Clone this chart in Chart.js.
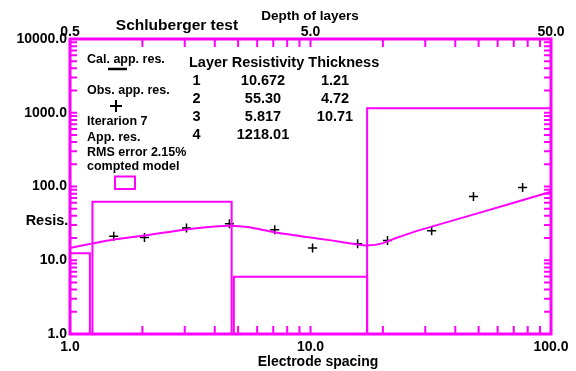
<!DOCTYPE html>
<html>
<head>
<meta charset="utf-8">
<script src="https://cdn.jsdelivr.net/npm/chart.js@4.4.1/dist/chart.umd.min.js"></script>
<style>
  body { margin: 0; background: #fff; }
</style>
</head>
<body>
<canvas id="ChartSounding" width="576" height="371"></canvas>
<script>
// observed apparent resistivity (crosses)
const spacing  = [1.52, 2.04, 3.05, 4.6, 7.1, 10.2, 15.7, 20.9, 31.9, 47.6, 76.2];
const observed = [21.1, 20.3, 27.3, 31.3, 26.0, 14.7, 16.8, 18.5, 25.2, 73.3, 96.9];

// calculated apparent resistivity (curve)
const calcX = [1, 1.23, 1.5, 2.04, 3.05, 4.0, 4.65, 5.47, 7.1, 10, 12.2, 15.7, 17.1, 19.7, 22.4, 28.9, 51.5, 100];
const calcY = [14.7, 16.8, 19.0, 21.7, 26.2, 28.6, 29.4, 28.2, 24.0, 20.3, 18.6, 16.4, 15.9, 16.8, 19.7, 26.0, 44.9, 85];

// computed model, as drawn
const layerLeft  = [1, 1.24, 4.8, 17.2];
const layerRight = [1.21, 4.70, 17.2, 100];
const layerRes   = [12.4, 62, 5.98, 1150];

// table
const layers      = ['1', '2', '3', '4'];
const resistivity = ['10.672', '55.30', '5.817', '1218.01'];
const thickness   = ['1.21', '4.72', '10.71', ''];

// ticks
const xTicks   = [1, 10, 100];
const topTicks = [0.5, 5, 50];
const yTicks   = [1, 10, 100, 1000, 10000];
const minorSteps = [2, 3, 4, 5, 6, 7, 8, 9];

const magenta = '#ff00ff';
const FONT = '"Liberation Sans", Arial, sans-serif';

Chart.defaults.font.family = FONT;
Chart.defaults.font.weight = 'bold';
Chart.defaults.color = '#000';

function fixTicks(list) {
  return function(scale) {
    scale.ticks = list.map(function(v) { return { value: v }; });
  };
}

var datasets = [];

datasets.push({
  type: 'line',
  data: calcX.map(function(x, i) { return { x: x, y: calcY[i] }; }),
  borderColor: magenta,
  borderWidth: 2,
  pointRadius: 0,
  tension: 0.2,
  fill: false
});

for (var i in layerRes) {
  datasets.push({
    type: 'line',
    data: [
      { x: layerLeft[i], y: 1 },
      { x: layerLeft[i], y: layerRes[i] },
      { x: layerRight[i], y: layerRes[i] },
      { x: layerRight[i], y: 1 }
    ],
    borderColor: magenta,
    borderWidth: 2,
    pointRadius: 0,
    tension: 0,
    fill: false
  });
}

datasets.push({
  type: 'scatter',
  data: spacing.map(function(x, i) { return { x: x, y: observed[i] }; }),
  pointStyle: 'cross',
  pointRadius: 4.5,
  borderColor: '#000',
  borderWidth: 1.5,
  showLine: false
});

const framePlugin = {
  id: 'frame',
  afterDraw: function(chart) {
    var ctx = chart.ctx;
    var a = chart.chartArea;
    var sx = chart.scales.x, sy = chart.scales.y;
    ctx.save();

    // inward ticks
    ctx.strokeStyle = magenta;
    ctx.lineWidth = 2;
    ctx.beginPath();
    [1, 10].forEach(function(d) {
      [1].concat(minorSteps).forEach(function(m) {
        var px = sx.getPixelForValue(m * d);
        ctx.moveTo(px, a.bottom); ctx.lineTo(px, a.bottom - 8);
        ctx.moveTo(px, a.top);    ctx.lineTo(px, a.top + 8);
      });
    });
    [1, 10, 100, 1000].forEach(function(d) {
      [1].concat(minorSteps).forEach(function(m) {
        var py = sy.getPixelForValue(m * d);
        ctx.moveTo(a.left, py);  ctx.lineTo(a.left + 7, py);
        ctx.moveTo(a.right, py); ctx.lineTo(a.right - 7, py);
      });
    });
    ctx.stroke();

    ctx.lineWidth = 3;
    ctx.strokeRect(a.left, a.top, a.right - a.left, a.bottom - a.top);

    // legend marks
    ctx.strokeStyle = '#000';
    ctx.lineWidth = 2.5;
    ctx.beginPath();
    ctx.moveTo(108, 69); ctx.lineTo(127, 69);
    ctx.stroke();
    ctx.lineWidth = 2;
    ctx.beginPath();
    ctx.moveTo(110, 106); ctx.lineTo(122, 106);
    ctx.moveTo(116, 100); ctx.lineTo(116, 112);
    ctx.stroke();
    ctx.strokeStyle = magenta;
    ctx.strokeRect(115, 176.5, 20, 12.5);

    // texts
    ctx.fillStyle = '#000';
    ctx.textBaseline = 'alphabetic';
    ctx.textAlign = 'center';
    ctx.font = 'bold 15.5px ' + FONT;
    ctx.fillText('Schluberger test', 177, 30);
    ctx.font = 'bold 13.5px ' + FONT;
    ctx.fillText('Depth of layers', 310, 20);
    ctx.font = 'bold 14px ' + FONT;
    ctx.fillText('Electrode spacing', 318, 366);
    ctx.font = 'bold 14.5px ' + FONT;
    ctx.fillText('Resis.', 47, 225);

    ctx.textAlign = 'left';
    ctx.font = 'bold 12.5px ' + FONT;
    ctx.fillText('Cal. app. res.', 87, 63);
    ctx.fillText('Obs. app. res.', 87, 94);
    ctx.fillText('Iterarion 7', 87, 125);
    ctx.fillText('App. res.', 87, 141);
    ctx.fillText('RMS error 2.15%', 87, 156);
    ctx.fillText('compted model', 87, 170);

    ctx.font = 'bold 14.5px ' + FONT;
    ctx.fillText('Layer Resistivity Thickness', 189, 67);
    ctx.textAlign = 'center';
    for (var r = 0; r < layers.length; r++) {
      var by = 85 + r * 18;
      ctx.fillText(layers[r], 196.5, by);
      ctx.fillText(resistivity[r], 263, by);
      ctx.fillText(thickness[r], 335, by);
    }
    ctx.restore();
  }
};

const ctx = document.getElementById('ChartSounding').getContext('2d');
const chart = new Chart(ctx, {
  data: { datasets: datasets },
  options: {
    responsive: false,
    animation: false,
    layout: { padding: { left: 0, right: 25, top: 0, bottom: 0 } },
    plugins: { legend: { display: false }, tooltip: { enabled: false }, title: { display: false } },
    scales: {
      x: {
        type: 'logarithmic', position: 'bottom', min: 1, max: 100,
        grid: { display: false, drawTicks: false }, border: { display: false },
        afterBuildTicks: fixTicks(xTicks),
        afterFit: function(scale) { scale.height = 37; },
        ticks: { font: { size: 14, weight: 'bold' }, padding: 5, maxRotation: 0, autoSkip: false,
          callback: function(v) { return Number(v).toFixed(1); } }
      },
      x2: {
        type: 'logarithmic', position: 'top', min: 0.5, max: 50,
        grid: { display: false, drawTicks: false }, border: { display: false },
        afterBuildTicks: fixTicks(topTicks),
        afterFit: function(scale) { scale.height = 39; },
        ticks: { font: { size: 14, weight: 'bold' }, padding: -2, maxRotation: 0, autoSkip: false,
          callback: function(v) { return Number(v).toFixed(1); } }
      },
      y: {
        type: 'logarithmic', position: 'left', min: 1, max: 10000,
        grid: { display: false, drawTicks: false }, border: { display: false },
        afterBuildTicks: fixTicks(yTicks),
        afterFit: function(scale) { scale.width = 70; },
        ticks: { font: { size: 14, weight: 'bold' }, padding: 3, autoSkip: false,
          callback: function(v) { return Number(v).toFixed(1); } }
      }
    }
  },
  plugins: [framePlugin]
});
</script>
</body>
</html>
